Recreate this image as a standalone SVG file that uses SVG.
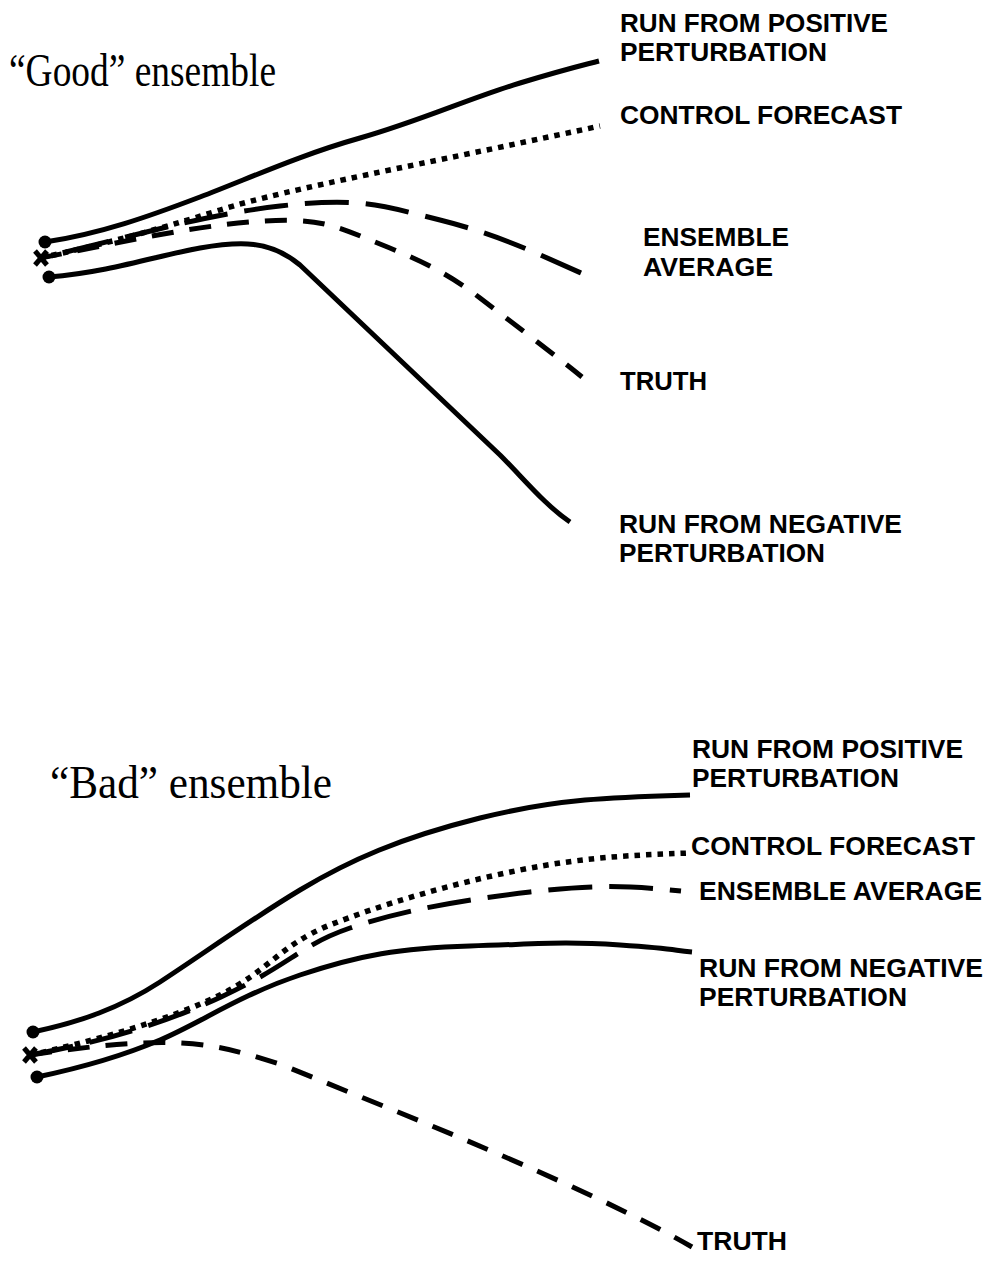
<svg xmlns="http://www.w3.org/2000/svg" width="988" height="1264" viewBox="0 0 988 1264">
<style>
.ln{fill:none;stroke:#000;stroke-width:5;stroke-linecap:butt;stroke-linejoin:round}
.solid{}
.dot{stroke-width:5.5;stroke-dasharray:5.5 6}
.long{stroke-dasharray:44 17}
.med{stroke-dasharray:22 16}
.lbl{font-family:"Liberation Sans",Arial,sans-serif;font-weight:bold;font-size:25px;fill:#000}
.ttl{font-family:"Liberation Serif","Times New Roman",serif;font-size:47px;fill:#000}
.mk{fill:none;stroke:#000;stroke-width:5}
</style>
<rect width="988" height="1264" fill="#fff"/>

<g id="good-title"><text class="ttl" x="9" y="86" textLength="267" lengthAdjust="spacingAndGlyphs">“Good” ensemble</text></g>
<g id="bad-title"><text class="ttl" x="50" y="798" textLength="282" lengthAdjust="spacingAndGlyphs">“Bad” ensemble</text></g>

<g id="connectors">
  <!-- Good ensemble -->
  <path id="g-pos" class="ln solid" d="M45,242 C100,234 150,216 200,197 S300,155 360,138 S470,98 520,83 S580,66 599,61"/>
  <path id="g-ctl" class="ln dot" d="M40,258 C100,245 150,232 220,210 S420,165 600,126"/>
  <path id="g-avg" class="ln long" d="M581,273 C540,255 500,235 440,220 C380,205 360,197 280,206 C200,215 120,240 40,258"/>
  <path id="g-truth" class="ln med" d="M40,258 C110,245 180,228 250,222 S335,226 380,244 S450,275 480,298 S555,355 582,377"/>
  <path id="g-neg" class="ln solid" d="M49,277 C110,272 160,255 200,248 S270,240 300,265 L500,455 C525,480 545,505 570,522"/>
  <!-- Bad ensemble -->
  <path id="b-pos" class="ln solid" d="M33,1032 C80,1022 120,1008 160,982 S250,920 300,890 S400,838 480,818 S620,797 690,795"/>
  <path id="b-ctl" class="ln dot" d="M30,1055 C90,1042 170,1020 220,995 S280,945 330,925 S450,884 520,870 S640,855 690,853"/>
  <path id="b-avg" class="ln long" d="M30,1055 C80,1046 150,1030 221,997 S300,945 350,928 S460,900 530,892 S630,886 681,891"/>
  <path id="b-neg" class="ln solid" d="M37,1077 C80,1068 120,1057 160,1040 S240,995 300,975 S400,948 470,946 S560,941 620,945 S670,950 692,952"/>
  <path id="b-truth" class="ln med" d="M30,1055 C90,1046 140,1041 180,1043 S240,1052 280,1064 L420,1121 C490,1150 620,1205 692,1247"/>
</g>

<g id="start-marks">
  <circle cx="45" cy="242" r="6.5"/>
  <circle cx="49" cy="277" r="6.5"/>
  <path class="mk" d="M35,251 L47,265 M35,265 L47,251"/>
  <circle cx="33" cy="1032" r="6.5"/>
  <circle cx="37" cy="1077" r="6.5"/>
  <path class="mk" d="M24,1048 L36,1062 M24,1062 L36,1048"/>
</g>

<g id="label-g-pos"><text class="lbl" x="620" y="32" textLength="268" lengthAdjust="spacingAndGlyphs">RUN FROM POSITIVE</text><text class="lbl" x="620" y="61" textLength="207" lengthAdjust="spacingAndGlyphs">PERTURBATION</text></g>
<g id="label-g-ctl"><text class="lbl" x="620" y="124" textLength="282" lengthAdjust="spacingAndGlyphs">CONTROL FORECAST</text></g>
<g id="label-g-avg"><text class="lbl" x="643" y="246" textLength="146" lengthAdjust="spacingAndGlyphs">ENSEMBLE</text><text class="lbl" x="643" y="276" textLength="130" lengthAdjust="spacingAndGlyphs">AVERAGE</text></g>
<g id="label-g-truth"><text class="lbl" x="620" y="390" textLength="87" lengthAdjust="spacingAndGlyphs">TRUTH</text></g>
<g id="label-g-neg"><text class="lbl" x="619" y="533" textLength="283" lengthAdjust="spacingAndGlyphs">RUN FROM NEGATIVE</text><text class="lbl" x="619" y="562" textLength="206" lengthAdjust="spacingAndGlyphs">PERTURBATION</text></g>

<g id="label-b-pos"><text class="lbl" x="692" y="758" textLength="271" lengthAdjust="spacingAndGlyphs">RUN FROM POSITIVE</text><text class="lbl" x="692" y="787" textLength="207" lengthAdjust="spacingAndGlyphs">PERTURBATION</text></g>
<g id="label-b-ctl"><text class="lbl" x="691" y="855" textLength="284" lengthAdjust="spacingAndGlyphs">CONTROL FORECAST</text></g>
<g id="label-b-avg"><text class="lbl" x="699" y="900" textLength="283" lengthAdjust="spacingAndGlyphs">ENSEMBLE AVERAGE</text></g>
<g id="label-b-neg"><text class="lbl" x="699" y="977" textLength="284" lengthAdjust="spacingAndGlyphs">RUN FROM NEGATIVE</text><text class="lbl" x="699" y="1006" textLength="208" lengthAdjust="spacingAndGlyphs">PERTURBATION</text></g>
<g id="label-b-truth"><text class="lbl" x="697" y="1250" textLength="90" lengthAdjust="spacingAndGlyphs">TRUTH</text></g>
</svg>
